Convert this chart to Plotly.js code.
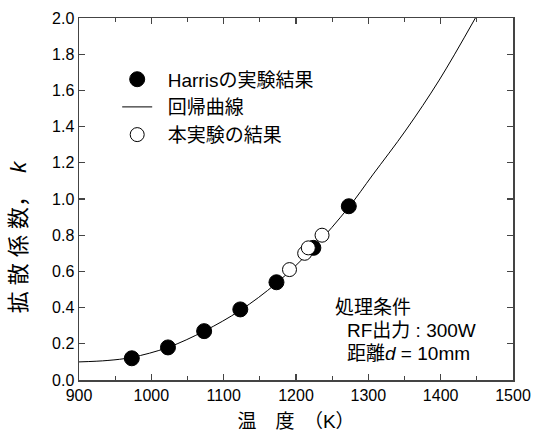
<!DOCTYPE html>
<html>
<head>
<meta charset="utf-8">
<script src="https://cdn.plot.ly/plotly-3.0.1.min.js"></script>
<style>html,body{margin:0;padding:0;background:#fff;}#chart{width:533px;height:438px;}</style>
</head>
<body>
<div id="chart"></div>
<script>
// Harris experimental results
const harrisT = [973, 1023, 1073, 1123, 1173, 1224, 1273];
const harrisK = [0.12, 0.18, 0.27, 0.39, 0.54, 0.73, 0.96];
// This experiment
const thisT = [1191, 1212, 1217, 1236];
const thisK = [0.61, 0.70, 0.73, 0.80];
// Regression curve
const curveT = [900, 940, 973, 1023, 1073, 1123, 1173, 1224, 1273, 1306, 1352, 1398, 1448];
const curveK = [0.10, 0.108, 0.125, 0.18, 0.27, 0.385, 0.535, 0.73, 0.955, 1.133, 1.381, 1.657, 2.0];
const xTicks = [900, 1000, 1100, 1200, 1300, 1400, 1500];
const yTicks = [0.0, 0.2, 0.4, 0.6, 0.8, 1.0, 1.2, 1.4, 1.6, 1.8, 2.0];

const FONT = 'Liberation Sans, Arial, Noto Sans CJK JP, sans-serif';
const PAD = '\u00a0\u00a0';

const traces = [
  {x: harrisT, y: harrisK, type: 'scatter', mode: 'markers', name: PAD + 'Harrisの実験結果',
   marker: {symbol: 'circle', size: 15, color: '#000', line: {color: '#000', width: 1}}},
  {x: curveT, y: curveK, type: 'scatter', mode: 'lines', name: PAD + '回帰曲線',
   line: {color: '#000', width: 1, shape: 'spline', smoothing: 1}},
  {x: thisT, y: thisK, type: 'scatter', mode: 'markers', name: PAD + '本実験の結果',
   marker: {symbol: 'circle', size: 14, color: '#fff', line: {color: '#000', width: 1}}}
];

const axisCommon = {
  showgrid: false, zeroline: false, showline: true, mirror: 'ticks',
  linecolor: '#444', linewidth: 1.5, ticks: 'inside', ticklen: 6, tickwidth: 1.2,
  tickcolor: '#444', tickfont: {family: FONT, size: 16, color: '#000'}
};

const layout = {
  width: 533, height: 438,
  margin: {l: 79, r: 20, t: 18, b: 58},
  paper_bgcolor: '#fff', plot_bgcolor: '#fff',
  showlegend: true,
  font: {family: FONT, color: '#000'},
  legend: {x: 0.088, y: 0.883, xanchor: 'left', yanchor: 'top',
           bgcolor: 'rgba(0,0,0,0)', borderwidth: 0,
           font: {family: FONT, size: 19, color: '#000'}, tracegroupgap: 0},
  xaxis: Object.assign({}, axisCommon, {
    range: [900, 1500], tickvals: xTicks, ticktext: xTicks.map(String),
    minor: {dtick: 50, ticks: 'inside', ticklen: 4, tickcolor: '#444', tickwidth: 1.2, showgrid: false},
    title: {text: '温　度　（K）', font: {family: FONT, size: 19, color: '#000'}, standoff: 12}
  }),
  yaxis: Object.assign({}, axisCommon, {
    range: [0, 2.0], tickvals: yTicks, ticktext: yTicks.map(v => v.toFixed(1)),
    title: {text: ''}
  }),
  annotations: [
    {xref: 'paper', yref: 'paper', x: -0.14, y: 0.395, xanchor: 'center', yanchor: 'middle',
     text: '拡 散 係 数，  <i>k</i>', textangle: -90, showarrow: false,
     font: {family: FONT, size: 22, color: '#000'}},
    {xref: 'paper', yref: 'paper', x: (333 - 79) / 434, y: (380 - 307) / 362, xanchor: 'left', yanchor: 'middle',
     text: '処理条件', showarrow: false, font: {family: FONT, size: 19, color: '#000'}},
    {xref: 'paper', yref: 'paper', x: (345 - 79) / 434, y: (380 - 330) / 362, xanchor: 'left', yanchor: 'middle',
     text: 'RF出力 : 300W', showarrow: false, font: {family: FONT, size: 19, color: '#000'}},
    {xref: 'paper', yref: 'paper', x: (345 - 79) / 434, y: (380 - 353) / 362, xanchor: 'left', yanchor: 'middle',
     text: '距離<i>d</i> = 10mm', showarrow: false, font: {family: FONT, size: 19, color: '#000'}}
  ]
};

Plotly.newPlot('chart', traces, layout, {displayModeBar: false, staticPlot: true});
</script>
</body>
</html>
